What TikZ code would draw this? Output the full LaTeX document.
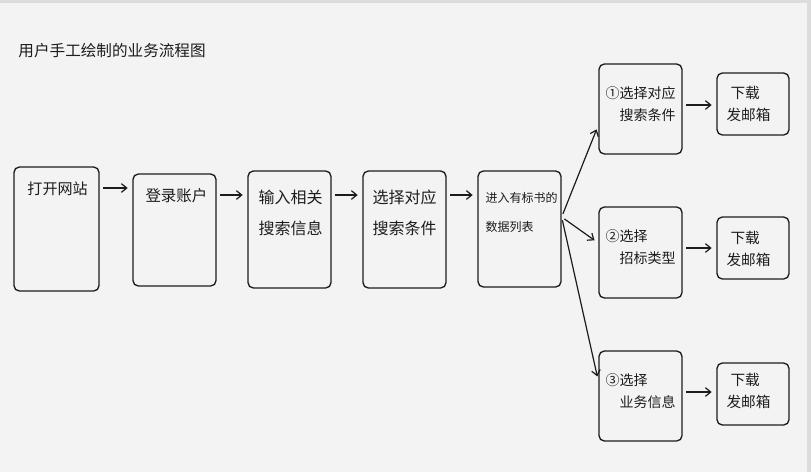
\documentclass[tikz,border=0pt]{standalone}
\usepackage{fontspec}
\newfontfamily\cjk{Noto Sans CJK SC}
\usetikzlibrary{fit,arrows.meta}
\definecolor{paper}{RGB}{243,243,243}
\definecolor{edge}{RGB}{220,220,220}
\definecolor{ink}{RGB}{28,28,28}
\tikzset{every picture/.style={line width=0.75pt}}
\tikzset{
  stepbox/.style={draw=ink, line width=1pt, rounded corners=4pt, inner sep=0pt},
  hand/.style 2 args={anchor=west, align=left, inner sep=0pt, text=ink, font=\cjk\fontsize{#1}{#2}\selectfont},
  arr/.style={draw=ink, line width=0.9pt, -{Straight Barb[length=4pt,width=6.5pt]}, shorten <=2.5pt, shorten >=3.5pt},
}

\begin{document}
\begin{tikzpicture}[x=0.75pt,y=0.75pt,yscale=-1,xscale=1]
		\useasboundingbox (0,0) rectangle (811,472);
		% paper
		\fill[paper] (0,0) rectangle (811,472);
		\fill[edge] (0,0) rectangle (811,3);
		\fill[edge] (807,0) rectangle (811,472);
		
		% Title
		\node[hand={11.7}{14}] (title) at (18,51) {用户手工绘制的业务流程图};
		
		% Main row of boxes
		\node[stepbox, fit={(14,167) (99,291)}] (b1) {};
		\node[stepbox, fit={(133,174) (216,286)}] (b2) {};
		\node[stepbox, fit={(248,171) (331,288)}] (b3) {};
		\node[stepbox, fit={(363,171) (446,288)}] (b4) {};
		\node[stepbox, fit={(478,171) (561,287)}] (b5) {};
		% Branch boxes
		\node[stepbox, fit={(599,64) (682,154)}] (a1) {};
		\node[stepbox, fit={(599,207) (682,298)}] (a2) {};
		\node[stepbox, fit={(599,351) (682,441)}] (a3) {};
		% Download boxes
		\node[stepbox, fit={(717,73) (789,135)}] (d1) {};
		\node[stepbox, fit={(717,217) (789,279)}] (d2) {};
		\node[stepbox, fit={(717,363) (789,425)}] (d3) {};
		
		% Text Nodes
		\node[hand={11.3}{14}] (t1) at (27,189) {打开网站};
		\node[hand={11.6}{14}] (t2) at (145,196) {登录账户};
		\node[hand={12}{23.25}] (t3) at (258,212.5) {输入相关\\搜索信息};
		\node[hand={12}{23.25}] (t4) at (372,212.5) {选择对应\\搜索条件};
		\node[hand={9}{21.75}] (t5) at (485,212.5) {进入有标书的\\数据列表};
		\node[hand={10.5}{16.5}] (s1) at (605,104) {①选择对应\\\phantom{①}搜索条件};
		\node[hand={10.5}{16.5}] (s2) at (605,247.5) {②选择\\\phantom{②}招标类型};
		\node[hand={10.5}{16.5}] (s3) at (605,391) {③选择\\\phantom{③}业务信息};
		\node[hand={11}{16.5}] (m1) at (726,104) {\hspace*{3pt}下载\\发邮箱};
		\node[hand={11}{16.5}] (m2) at (726,248.5) {\hspace*{3pt}下载\\发邮箱};
		\node[hand={11}{16.5}] (m3) at (726,391) {\hspace*{3pt}下载\\发邮箱};
		
		% Straight Lines
		\draw[arr] (b1.east |- 0,188) -- (b2.west |- 0,188);
		\draw[arr] (b2.east |- 0,195) -- (b3.west |- 0,195);
		\draw[arr] (b3.east |- 0,195) -- (b4.west |- 0,195);
		\draw[arr] (b4.east |- 0,195) -- (b5.west |- 0,195);
		\draw[arr] (b5.east |- 0,217) -- (a1.west |- 0,125);
		\draw[arr] (b5.east |- 0,217) -- (a2.west |- 0,243);
		\draw[arr] (b5.east |- 0,217) -- (a3.west |- 0,381);
		\draw[arr] (a1.east |- 0,105) -- (d1.west |- 0,105);
		\draw[arr] (a2.east |- 0,248) -- (d2.west |- 0,248);
		\draw[arr] (a3.east |- 0,392) -- (d3.west |- 0,392);
\end{tikzpicture}
\end{document}
